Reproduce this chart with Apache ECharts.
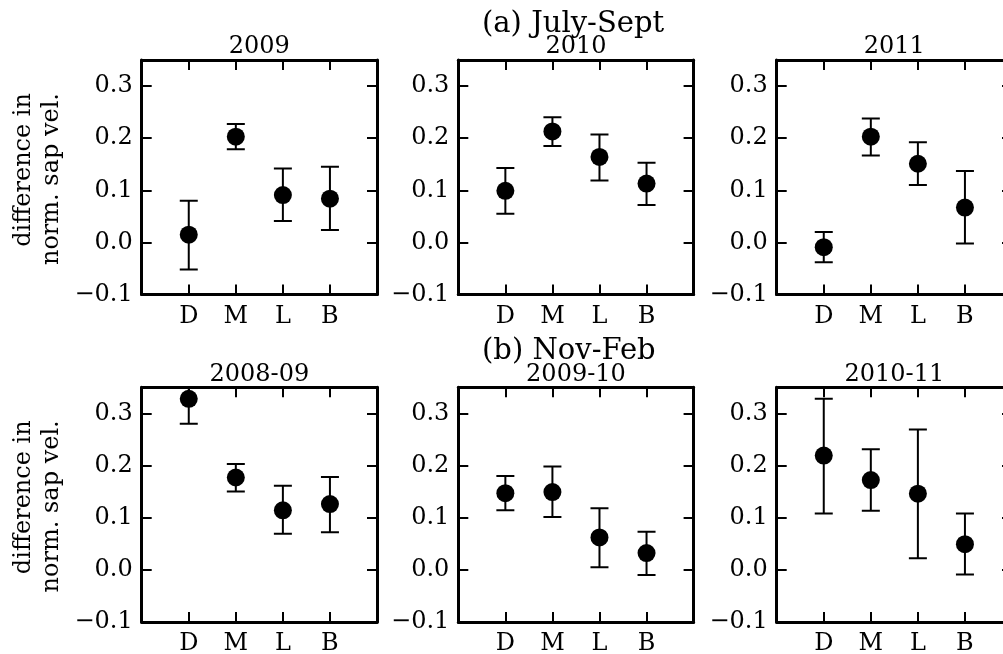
<!DOCTYPE html>
<html>
<head>
<meta charset="utf-8">
<script src="https://cdn.jsdelivr.net/npm/echarts@6/dist/echarts.min.js"></script>
<style>
  html, body { margin: 0; padding: 0; background: #fff; }
  #chart { width: 1003px; height: 654px; }
</style>
</head>
<body>
<div id="chart"></div>
<script>
// Site categories along each x axis
const categories = ['D', 'M', 'L', 'B'];
const yTicks = [-0.1, 0.0, 0.1, 0.2, 0.3];

// (a) July-Sept: mean difference and error bar ends per site
const panelTitlesA = ['2009', '2010', '2011'];
const jul2009Mean = [0.015, 0.203, 0.091, 0.084];
const jul2009Low  = [-0.052, 0.179, 0.041, 0.024];
const jul2009High = [0.080, 0.227, 0.142, 0.145];
const jul2010Mean = [0.099, 0.213, 0.164, 0.113];
const jul2010Low  = [0.055, 0.185, 0.119, 0.072];
const jul2010High = [0.143, 0.240, 0.207, 0.153];
const jul2011Mean = [-0.009, 0.203, 0.151, 0.067];
const jul2011Low  = [-0.038, 0.167, 0.110, -0.002];
const jul2011High = [0.020, 0.238, 0.192, 0.137];

// (b) Nov-Feb
const panelTitlesB = ['2008-09', '2009-10', '2010-11'];
const nov0809Mean = [0.328, 0.177, 0.114, 0.126];
const nov0809Low  = [0.280, 0.150, 0.069, 0.072];
const nov0809High = [0.376, 0.203, 0.161, 0.178];
const nov0910Mean = [0.147, 0.149, 0.062, 0.032];
const nov0910Low  = [0.114, 0.101, 0.005, -0.010];
const nov0910High = [0.180, 0.198, 0.118, 0.073];
const nov1011Mean = [0.219, 0.172, 0.146, 0.049];
const nov1011Low  = [0.108, 0.113, 0.022, -0.009];
const nov1011High = [0.328, 0.231, 0.269, 0.108];

const rowTitles = ['(a) July-Sept', '(b) Nov-Feb'];
const yLabelLines = ['difference in', 'norm. sap vel.'];

const panels = [
  { title: panelTitlesA[0], mean: jul2009Mean, low: jul2009Low, high: jul2009High },
  { title: panelTitlesA[1], mean: jul2010Mean, low: jul2010Low, high: jul2010High },
  { title: panelTitlesA[2], mean: jul2011Mean, low: jul2011Low, high: jul2011High },
  { title: panelTitlesB[0], mean: nov0809Mean, low: nov0809Low, high: nov0809High },
  { title: panelTitlesB[1], mean: nov0910Mean, low: nov0910Low, high: nov0910High },
  { title: panelTitlesB[2], mean: nov1011Mean, low: nov1011Low, high: nov1011High }
];

const FONT = 'DejaVu Serif';
const FS = 24;
const colLeft = [141.7, 458.3, 776.7];
const rowTop = [60, 387.3];
const gridW = 235.3;
const gridH = 234.6;
const rowShift = rowTop[1] - rowTop[0];

function fmtY(v) {
  const r = Math.round(v * 10) / 10;
  if (!yTicks.some(t => Math.abs(t - r) < 1e-9) || Math.abs(v - r) > 1e-6) return '';
  return r < 0 ? '\u2212' + Math.abs(r).toFixed(1) : r.toFixed(1);
}

const grid = [], xAxis = [], yAxis = [], series = [], graphic = [];
const lineStyle = { color: '#000', width: 3 };
const tickStyle = { color: '#000', width: 2 };

panels.forEach((p, g) => {
  const row = Math.floor(g / 3), col = g % 3;
  grid.push({ left: colLeft[col], top: rowTop[row], width: gridW, height: gridH,
    containLabel: false, outerBoundsMode: 'none' });

  const xBase = { gridIndex: g, type: 'value', min: 0, max: categories.length + 1, interval: 1,
    splitLine: { show: false }, axisLine: { show: true, onZero: false, lineStyle },
    axisTick: { show: true, inside: true, length: 10, lineStyle: tickStyle } };
  xAxis.push(Object.assign({}, xBase, { position: 'bottom',
    axisLabel: { show: true, fontFamily: FONT, fontSize: FS, color: '#000', margin: 10,
      formatter: v => categories[v - 1] || '' } }));
  xAxis.push(Object.assign({}, xBase, { position: 'top', axisLabel: { show: false } }));

  const yBase = { gridIndex: g, type: 'value', min: -0.1, max: 0.35, interval: 0.1,
    splitLine: { show: false }, axisLine: { show: true, onZero: false, lineStyle },
    axisTick: { show: true, inside: true, length: 10, lineStyle: tickStyle } };
  yAxis.push(Object.assign({}, yBase, { position: 'left',
    axisLabel: { show: true, fontFamily: FONT, fontSize: FS, color: '#000', margin: 9,
      showMaxLabel: false, formatter: fmtY } }));
  yAxis.push(Object.assign({}, yBase, { position: 'right', axisLabel: { show: false } }));

  const barData = categories.map((c, i) => [i + 1, p.low[i], p.high[i]]);
  series.push({
    type: 'custom', xAxisIndex: 2 * g, yAxisIndex: 2 * g, clip: true, z: 2,
    data: barData,
    renderItem: function (params, api) {
      const x = api.value(0);
      const a = api.coord([x, api.value(1)]);
      const b = api.coord([x, api.value(2)]);
      const hw = 9;
      const st = { stroke: '#000', lineWidth: 2 };
      return { type: 'group', children: [
        { type: 'line', shape: { x1: a[0], y1: a[1], x2: b[0], y2: b[1] }, style: st },
        { type: 'line', shape: { x1: a[0] - hw, y1: a[1], x2: a[0] + hw, y2: a[1] }, style: st },
        { type: 'line', shape: { x1: b[0] - hw, y1: b[1], x2: b[0] + hw, y2: b[1] }, style: st }
      ] };
    }
  });
  series.push({
    type: 'scatter', xAxisIndex: 2 * g, yAxisIndex: 2 * g, z: 3,
    symbol: 'circle', symbolSize: 18, itemStyle: { color: '#000', opacity: 1 },
    data: categories.map((c, i) => [i + 1, p.mean[i]])
  });

  // panel title
  graphic.push({ type: 'text', x: colLeft[col] + gridW / 2, y: rowTop[row] - 13,
    style: { text: p.title, font: FS + 'px "' + FONT + '"', fill: '#000',
      textAlign: 'center', textVerticalAlign: 'middle' } });
});

rowTitles.forEach((t, r) => {
  graphic.push({ type: 'text', x: 482, y: 24 + r * rowShift,
    style: { text: t, font: '29px "' + FONT + '"', fill: '#000',
      textAlign: 'left', textVerticalAlign: 'middle' } });
  yLabelLines.forEach((line, k) => {
    graphic.push({ type: 'text', x: 24 + k * 28, y: 93 + r * rowShift, rotation: Math.PI / 2,
      style: { text: line, font: FS + 'px "' + FONT + '"', fill: '#000',
        textAlign: 'right', textVerticalAlign: 'middle' } });
  });
});

const chart = echarts.init(document.getElementById('chart'), null, { renderer: 'canvas' });
chart.setOption({ animation: false, backgroundColor: '#fff', grid, xAxis, yAxis, series, graphic });
</script>
</body>
</html>
